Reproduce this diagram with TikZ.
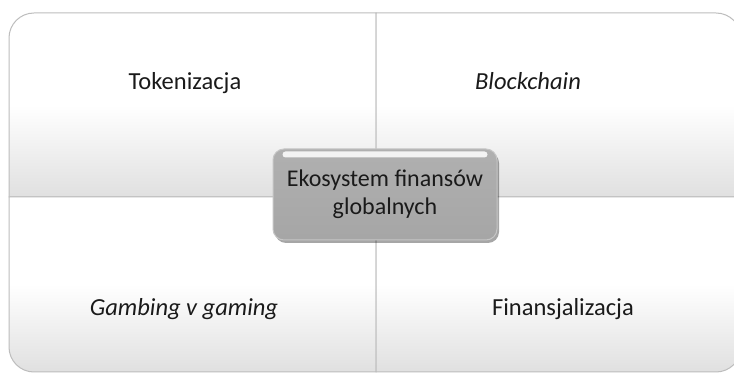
\documentclass[tikz,border=0pt]{standalone}
\usepackage{fontspec}
\setmainfont{Carlito}
\usetikzlibrary{shadows}
\definecolor{qgray}{HTML}{E0E0E0}
\definecolor{qline}{HTML}{BDBDBD}
\definecolor{txt}{HTML}{1A1A1A}
\tikzset{
  quad/.style={draw=qline, line width=1pt, top color=white, bottom color=qgray, middle color=white},
  qlabel/.style={anchor=base, text=txt, font=\fontsize{24.5}{28}\selectfont, inner sep=0pt},
  hub/.style={rounded corners=11pt, draw=gray!45, line width=1pt,
    top color=gray!62, bottom color=gray!70,
    drop shadow={shadow xshift=2pt, shadow yshift=-3pt, opacity=0.35, fill=black},
    minimum width=224pt, minimum height=91pt, align=center, text=txt,
    font=\fontsize{24}{28}\selectfont}
}
\begin{document}
\begin{tikzpicture}[x=1pt,y=1pt]
\useasboundingbox (0,0) rectangle (734,375);
\clip (0,0) rectangle (734,375);
\fill[white] (0,0) rectangle (734,375);
% quadrants
\path[quad] (9,178) -- (9,337) arc[start angle=180, end angle=90, radius=25] -- (376,362) -- (376,178) -- cycle;
\path[quad] (376,178) -- (376,362) -- (716,362) arc[start angle=90, end angle=0, radius=25] -- (741,178) -- cycle;
\path[quad] (9,178) -- (376,178) -- (376,3) -- (34,3) arc[start angle=270, end angle=180, radius=25] -- cycle;
\path[quad] (376,178) -- (741,178) -- (741,28) arc[start angle=0, end angle=-90, radius=25] -- (376,3) -- cycle;
% labels
\node[qlabel] (tok) at (185,285) {Tokenizacja};
\node[qlabel] (blk) at (528,285) {\itshape Blockchain};
\node[qlabel] (gam) at (184,59) {\itshape Gambing v gaming};
\node[qlabel] (fin) at (563,59) {Finansjalizacja};
% hub
\node[hub] (hubnode) at (385,180.5) {Ekosystem finansów\\globalnych};
\fill[white, opacity=0.85, rounded corners=3pt] ([xshift=10pt,yshift=-3pt]hubnode.north west) rectangle ([xshift=-10pt,yshift=-9pt]hubnode.north east);
\end{tikzpicture}
\end{document}
